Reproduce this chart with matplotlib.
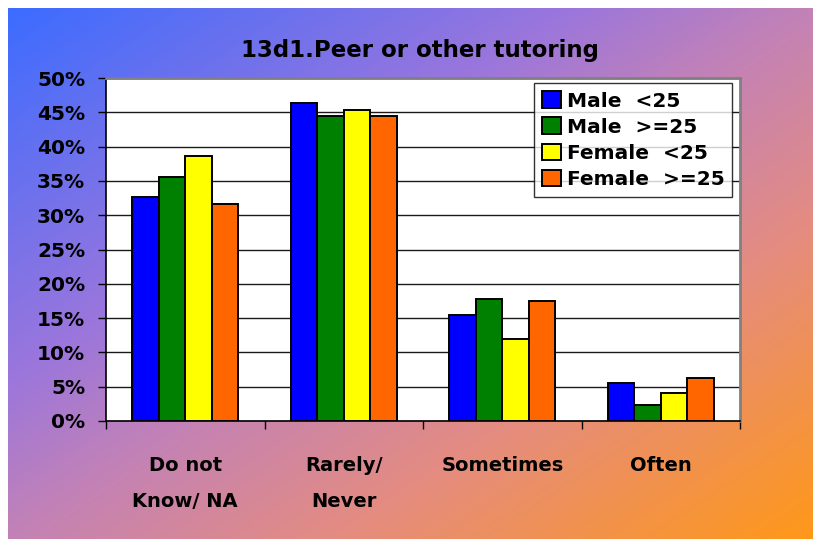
import numpy as np
import matplotlib
matplotlib.use("Agg")
import matplotlib.pyplot as plt
from matplotlib.colors import LinearSegmentedColormap

plt.rcParams['font.family'] = ['DejaVu Sans']
plt.rcParams['font.weight'] = 'bold'

# data (percent)
categories = ["Do not\nKnow/ NA", "Rarely/\nNever", "Sometimes", "Often"]
series_names = ["Male  <25", "Male  >=25", "Female  <25", "Female  >=25"]
male_lt25 = [32.7, 46.3, 15.4, 5.6]
male_ge25 = [35.5, 44.4, 17.8, 2.3]
female_lt25 = [38.6, 45.4, 11.9, 4.1]
female_ge25 = [31.7, 44.4, 17.5, 6.3]
colors = ["#0000ff", "#008000", "#ffff00", "#ff6600"]
title = "13d1.Peer or other tutoring"

W, H = 813, 539
fig = plt.figure(figsize=(W / 100.0, H / 100.0), dpi=100, facecolor="white")

# diagonal gradient background (blue -> purple -> pink -> orange)
bg = fig.add_axes([8.0 / W, 0, 1 - 8.0 / W, 1 - 8.0 / H], zorder=-10)
gx, gy = np.meshgrid(np.linspace(0, 1, 400), np.linspace(0, 1, 300))
grad = (gx + gy) / 2.0
cmap = LinearSegmentedColormap.from_list("bg", [
    (0.0, (60 / 255., 108 / 255., 1.0)),
    (0.35, (155 / 255., 118 / 255., 220 / 255.)),
    (0.5, (195 / 255., 130 / 255., 182 / 255.)),
    (0.7, (228 / 255., 140 / 255., 130 / 255.)),
    (1.0, (1.0, 152 / 255., 25 / 255.)),
])
bg.imshow(grad, cmap=cmap, aspect="auto", extent=[0, 1, 1, 0], interpolation="bilinear")
bg.set_axis_off()

ax = fig.add_axes([106.0 / W, 1 - 421.0 / H, 634.0 / W, 343.0 / H])
ax.set_facecolor("white")

x = np.arange(len(categories))
width = 1.0 / 6
all_series = [male_lt25, male_ge25, female_lt25, female_ge25]
for i, (vals, name, col) in enumerate(zip(all_series, series_names, colors)):
    offs = (i - 1.5) * width
    ax.bar(x + offs, vals, width, color=col, edgecolor="black", linewidth=1.4,
           label=name, zorder=3)

ax.set_xlim(-0.5, len(categories) - 0.5)
ax.set_ylim(0, 50)
ax.set_yticks(np.arange(0, 51, 5))
ax.set_yticklabels(["%d%%" % v for v in range(0, 51, 5)], fontsize=14.5, fontweight="bold")
ax.yaxis.grid(True, color="#1a1a1a", linewidth=1.0, zorder=0)
ax.set_axisbelow(True)

# category boundaries as major ticks, labels at centres as minor ticks
ax.set_xticks(np.arange(-0.5, len(categories), 1.0))
ax.set_xticklabels([])
ax.set_xticks(x, minor=True)
ax.set_xticklabels(categories, minor=True, fontsize=14, fontweight="bold",
                   linespacing=2.15)
ax.tick_params(axis="x", which="major", length=6, width=1, direction="out")
ax.tick_params(axis="x", which="minor", length=0, pad=25)
ax.tick_params(axis="y", length=6, width=1, direction="out", pad=9)

for side in ["top", "right"]:
    ax.spines[side].set_color("#808080")
    ax.spines[side].set_linewidth(2.0)
for side in ["left", "bottom"]:
    ax.spines[side].set_color("black")
    ax.spines[side].set_linewidth(1.2)

leg = ax.legend(loc="upper right", bbox_to_anchor=(0.988, 0.985), fontsize=14.5,
                frameon=True, fancybox=False, shadow=False, borderpad=0.4,
                labelspacing=0.34, handlelength=0.9, handleheight=0.9,
                handletextpad=0.3, borderaxespad=0)
leg.get_frame().set_edgecolor("black")
leg.get_frame().set_linewidth(1.0)
for t in leg.get_texts():
    t.set_fontweight("bold")

fig.text(420.0 / W, 1 - 50.0 / H, title, ha="center", va="center",
         fontsize=16.5, fontweight="bold")

fig.savefig("out.png", dpi=100, facecolor=fig.get_facecolor())
